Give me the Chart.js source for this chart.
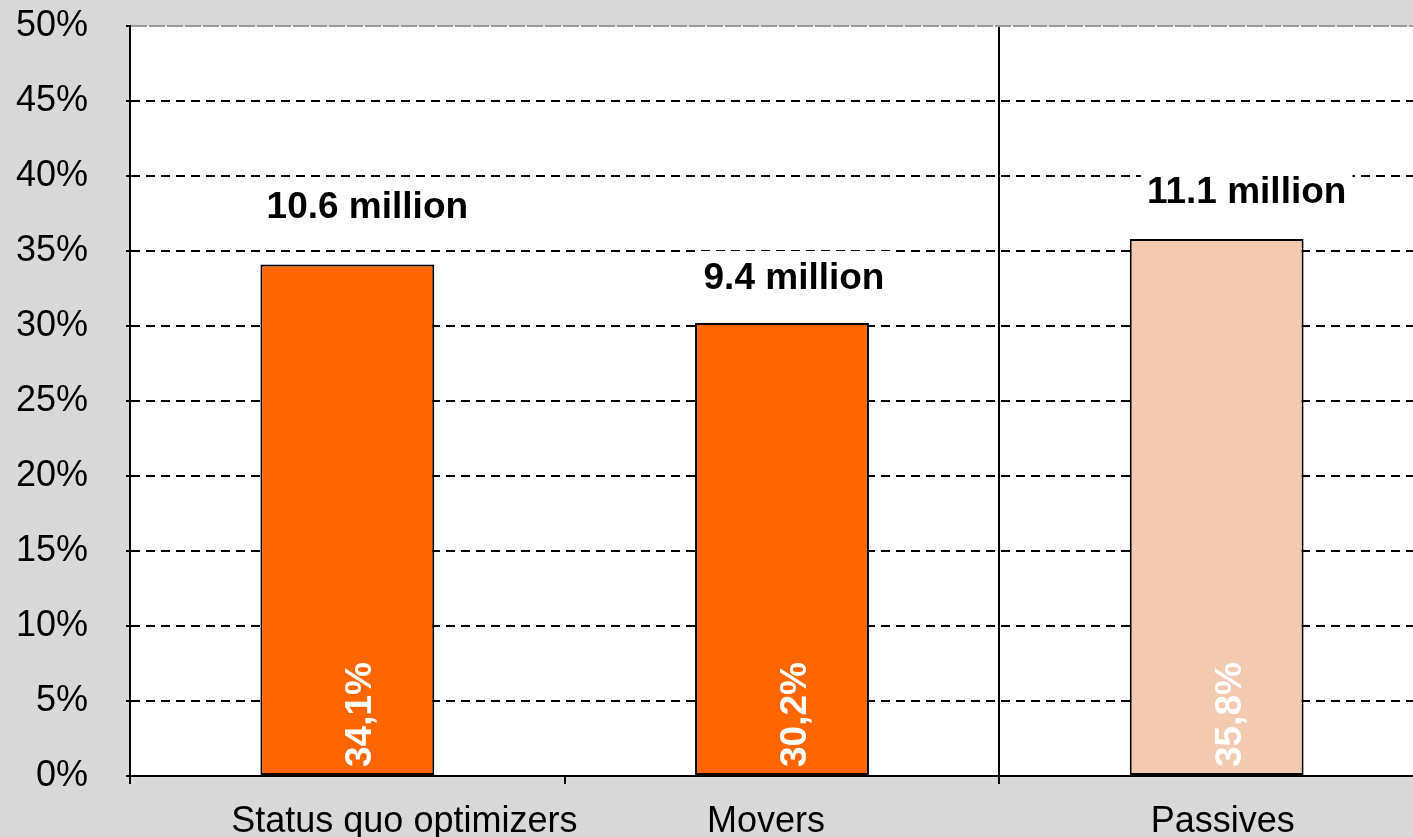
<!DOCTYPE html>
<html>
<head>
<meta charset="utf-8">
<title>Segments</title>
<script src="https://cdn.jsdelivr.net/npm/chart.js@4"></script>
<style>
  html, body { margin: 0; padding: 0; overflow: hidden; background: #d9d9d9; }
  #wrap { position: relative; width: 1440px; height: 837px; }
</style>
</head>
<body>
<div id="wrap"><canvas id="segChart"></canvas></div>
<script>
// data
const categories = ['Status quo optimizers', 'Movers', 'Passives'];
const shares = [34.1, 30.2, 35.8];          // % of total
const millions = [10.6, 9.4, 11.1];         // people, millions
const barColors = ['#ff6600', '#ff6600', '#f3c9b0'];

// label placement tweaks (px)
const millionDx = [20, 12, 30];
const millionLift = [47, 34, 36];
const categoryDx = [57, -16, 6];

const FONT = "'Liberation Sans', Arial, sans-serif";

const backdrop = {
  id: 'backdrop',
  beforeDraw(chart) {
    const { ctx, chartArea: a } = chart;
    ctx.save();
    ctx.fillStyle = '#d9d9d9';
    ctx.fillRect(0, 0, chart.width, chart.height);
    ctx.fillStyle = '#ffffff';
    ctx.fillRect(a.left, a.top, a.right - a.left, a.bottom - a.top);
    ctx.restore();
  }
};

const barLabels = {
  id: 'barLabels',
  afterDatasetsDraw(chart) {
    const { ctx } = chart;
    const meta = chart.getDatasetMeta(0);
    const x = chart.scales.x;
    ctx.save();
    meta.data.forEach((bar, i) => {
      // "N million" above the bar, on a white box
      const txt = millions[i].toFixed(1) + ' million';
      ctx.font = 'bold 37px ' + FONT;
      const w = ctx.measureText(txt).width;
      const cx = bar.x + millionDx[i];
      const base = bar.y - millionLift[i];
      ctx.fillStyle = '#ffffff';
      ctx.fillRect(cx - w / 2 - 6, base - 38, w + 12, 48);
      ctx.fillStyle = '#000000';
      ctx.textAlign = 'center';
      ctx.textBaseline = 'alphabetic';
      ctx.fillText(txt, cx, base);

      // share, rotated, inside the bar
      const pct = shares[i].toFixed(1).replace('.', ',') + '%';
      ctx.save();
      ctx.translate(bar.x + 24, bar.base - 8);
      ctx.rotate(-Math.PI / 2);
      ctx.font = 'bold 37px ' + FONT;
      ctx.fillStyle = '#ffffff';
      ctx.textAlign = 'left';
      ctx.fillText(pct, 0, 0);
      ctx.restore();

      // category name under the axis
      ctx.font = '36px ' + FONT;
      ctx.fillStyle = '#000000';
      ctx.textAlign = 'center';
      ctx.fillText(categories[i], x.getPixelForValue(i) + categoryDx[i], 832);
    });
    ctx.restore();
  }
};

new Chart(document.getElementById('segChart'), {
  type: 'bar',
  data: {
    labels: categories,
    datasets: [{
      data: shares,
      backgroundColor: barColors,
      borderColor: '#000000',
      borderWidth: 2,
      borderSkipped: false,
      categoryPercentage: 1,
      barPercentage: 0.4
    }]
  },
  options: {
    responsive: true,
    maintainAspectRatio: false,
    animation: false,
    layout: { padding: { top: 26, right: 6, left: 0, bottom: 0 } },
    plugins: {
      legend: { display: false },
      tooltip: { enabled: false }
    },
    scales: {
      x: {
        offset: true,
        grid: {
          offset: true,
          lineWidth: 2,
          color: ctx => ctx.index === 2 ? '#000000' : 'transparent',
          tickColor: '#000000',
          tickLength: 8
        },
        border: { display: true, color: '#000000', width: 2 },
        ticks: { display: false },
        afterFit: s => { s.height = 61; }
      },
      y: {
        min: 0,
        max: 50,
        ticks: {
          stepSize: 5,
          color: '#000000',
          padding: 38,
          font: { family: FONT, size: 36 },
          callback: v => v + '%'
        },
        grid: {
          lineWidth: 2,
          color: ctx => ctx.tick && ctx.tick.value === 50 ? '#9a9a9a' : '#000000',
          tickColor: '#000000',
          tickLength: 4
        },
        border: {
          display: true,
          color: '#000000',
          width: 2,
          dash: ctx => {
            if (!ctx.tick) return [];
            return ctx.tick.value === 50 ? [16, 2] : [9, 6];
          }
        },
        afterFit: s => {
          s.width = 130;
          // tick padding would otherwise push the plot top down
          s.paddingTop = 0;
          s.paddingBottom = 0;
        }
      }
    }
  },
  plugins: [backdrop, barLabels]
});
</script>
</body>
</html>
